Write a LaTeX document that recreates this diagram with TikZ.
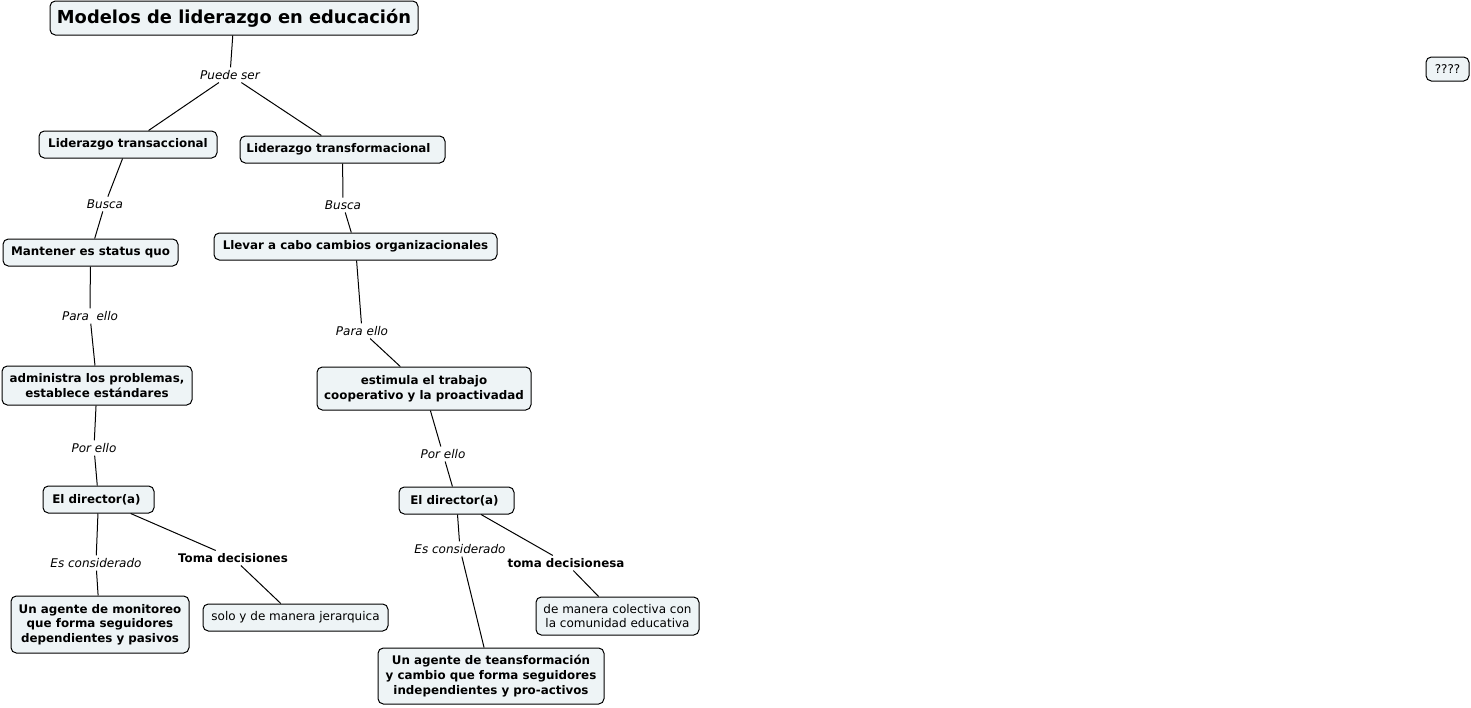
\documentclass[tikz,border=0pt]{standalone}
\usepackage{fontspec}
\setmainfont{DejaVu Sans}
\begin{document}
\begin{tikzpicture}[x=0.75pt,y=-0.75pt,
  box/.style={draw=black, line width=0.75pt, fill=boxfill, rounded corners=4pt,
    inner sep=0pt, align=center, font=\fontsize{8.9pt}{11pt}\selectfont\bfseries},
  nbox/.style={box, font=\fontsize{9pt}{11pt}\selectfont},
  lbl/.style={inner sep=2pt, font=\fontsize{9pt}{10pt}\selectfont\itshape},
  blbl/.style={inner sep=2pt, font=\fontsize{8.9pt}{10pt}\selectfont\bfseries},
  conn/.style={draw=black, line width=0.75pt}]
\definecolor{boxfill}{HTML}{EEF4F6}
\useasboundingbox (0,0) rectangle (1471,707);
% nodes
\node[box, font=\fontsize{13.4pt}{15pt}\selectfont\bfseries, minimum width=276pt, minimum height=25.5pt] (title) at (234,18) {Modelos de liderazgo en educación};
\node[nbox, minimum width=32.25pt, minimum height=18pt] (q) at (1447.5,69) {????};
\node[box, minimum width=133.5pt, minimum height=20.25pt] (lta) at (128,144.5) {Liderazgo transaccional};
\node[box, minimum width=153.75pt, minimum height=20.25pt] (ltf) at (342.5,149.5) {Liderazgo transformacional\hspace*{6pt}};
\node[box, minimum width=131.25pt, minimum height=20.25pt] (mant) at (90.5,252.5) {Mantener es status quo};
\node[box, minimum width=212.25pt, minimum height=20.25pt] (llev) at (355.5,246.5) {Llevar a cabo cambios organizacionales};
\node[box, minimum width=142.5pt, minimum height=29.25pt] (adm) at (97,385.5) {administra los problemas,\\ establece estándares};
\node[box, minimum width=160.5pt, minimum height=32.25pt] (est) at (424,388.5) {estimula el trabajo\\cooperativo y la proactivadad};
\node[box, minimum width=83.25pt, minimum height=20.25pt] (dirl) at (98.5,499.5) {El director(a)\hspace*{3pt}};
\node[box, minimum width=86.25pt, minimum height=20.25pt] (dirr) at (456.5,500.5) {El director(a)\hspace*{3pt}};
\node[box, minimum width=133.5pt, minimum height=42.75pt] (agl) at (100,624.5) {Un agente de monitoreo\\que forma seguidores\\dependientes y pasivos};
\node[nbox, minimum width=138.75pt, minimum height=20.25pt] (solo) at (295.5,617.5) {solo y de manera jerarquica};
\node[nbox, minimum width=122.25pt, minimum height=28.5pt] (col) at (617.5,616) {de manera colectiva con\\la comunidad educativa};
\node[box, minimum width=169.5pt, minimum height=42pt] (agr) at (491,676) {Un agente de teansformación\\y cambio que forma seguidores\\independientes y pro-activos};
% linking phrases
\node[lbl] (l1) at (230,75) {Puede ser};
\node[lbl] (l2) at (105,204) {Busca};
\node[lbl] (l3) at (343,205) {Busca};
\node[lbl] (l4) at (90,316) {Para\ \ ello};
\node[lbl] (l5) at (362,331) {Para ello};
\node[lbl] (l6) at (94,448) {Por ello};
\node[lbl] (l7) at (443,454) {Por ello};
\node[lbl] (l8) at (96,563) {Es considerado};
\node[blbl] (l9) at (233,558) {Toma decisiones};
\node[lbl] (l10) at (460,549) {Es considerado};
\node[blbl] (l11) at (566,563) {toma decisionesa};
% connectors
\draw[conn] (title) -- (l1);
\draw[conn] (l1) -- (lta);
\draw[conn] (l1) -- (ltf);
\draw[conn] (lta) -- (l2);
\draw[conn] (l2) -- (mant);
\draw[conn] (ltf) -- (l3);
\draw[conn] (l3) -- (llev);
\draw[conn] (mant) -- (l4);
\draw[conn] (l4) -- (adm);
\draw[conn] (llev) -- (l5);
\draw[conn] (l5) -- (est);
\draw[conn] (adm) -- (l6);
\draw[conn] (l6) -- (dirl);
\draw[conn] (est) -- (l7);
\draw[conn] (l7) -- (dirr);
\draw[conn] (dirl) -- (l8);
\draw[conn] (l8) -- (agl);
\draw[conn] (dirl) -- (l9);
\draw[conn] (l9) -- (solo);
\draw[conn] (dirr) -- (l10);
\draw[conn] (l10) -- (agr);
\draw[conn] (dirr) -- (l11);
\draw[conn] (l11) -- (col);
\end{tikzpicture}
\end{document}
